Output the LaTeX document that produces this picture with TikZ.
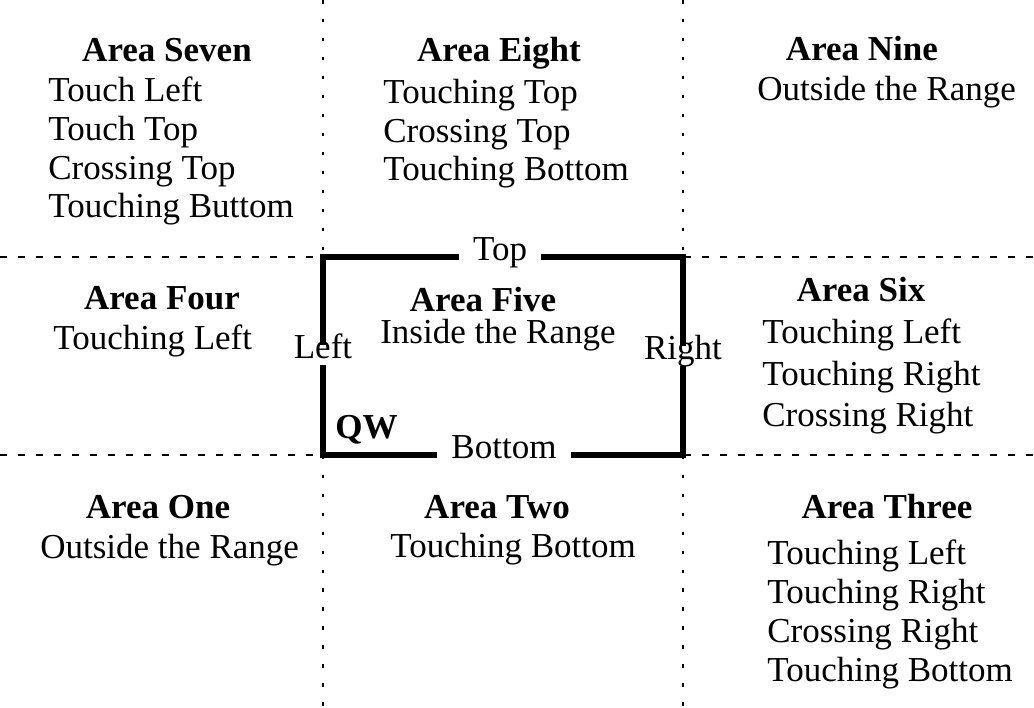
\documentclass[tikz,border=0pt]{standalone}
\usepackage{fontspec}
\setmainfont{Liberation Serif}
\newcommand\areafont{\fontsize{24.9}{27.7}\selectfont}

\begin{document}
\begin{tikzpicture}[
  x=0.025cm, y=-0.025cm,
  font=\areafont,
  areahead/.style={anchor=base, inner sep=0pt, font=\areafont\bfseries},
  arealist/.style={anchor=base west, inner sep=0pt, align=left},
  rimlabel/.style={fill=white, inner xsep=0.35cm, inner ysep=0.08cm,
    text height=0.68em, text depth=0.2em},
  rangebox/.style={line width=3.6pt, line join=miter},
  hgrid/.style={line width=1.2pt, dash pattern=on 5pt off 7.8pt},
  vgrid/.style={line width=1.2pt, dash pattern=on 2.5pt off 11pt}
]
\coordinate (nw) at (0,0);
\coordinate (se) at (1034,708);
\coordinate (tl) at (323,257);
\coordinate (br) at (683,455);
\useasboundingbox (nw) rectangle (se);

\draw[vgrid] (tl |- nw) -- (tl |- se);
\draw[vgrid] (br |- nw) -- (br |- se);
\draw[hgrid] (tl -| nw) -- (tl -| se);
\draw[hgrid] (br -| nw) -- (br -| se);

\node[rimlabel] (top) at (500,257) {Top};
\node[rimlabel] (bottom) at (504,455) {Bottom};
\node[rimlabel, inner xsep=2pt] (left) at (323,355) {Left};
\node[rimlabel, inner xsep=2pt] (right) at (683,356) {Right};

\draw[rangebox] (top.west) -| (left.north);
\draw[rangebox] (left.south) |- (bottom.west);
\draw[rangebox] (bottom.east) -| (right.south);
\draw[rangebox] (right.north) |- (top.east);

\node[areahead] (seven) at (167,62) {Area Seven};
\node[arealist] (sevenlist) at (48,218) {Touch Left\\Touch Top\\Crossing Top\\Touching Buttom};
\node[areahead] (eight) at (499,62) {Area Eight};
\node[arealist] (eightlist) at (383,181) {Touching Top\\Crossing Top\\Touching Bottom};
\node[areahead] (nine) at (862,61) {Area Nine};
\node[arealist] (ninelist) at (757,101) {Outside the Range};

\node[areahead] (four) at (162,310) {Area Four};
\node[arealist] (fourlist) at (53,350) {Touching Left};
\node[areahead] (five) at (483,312) {Area Five};
\node[arealist] (fivelist) at (380,344) {Inside the Range};
\node[areahead] (six) at (861,302) {Area Six};
\node[arealist] (sixlist) at (762,427) {Touching Left\\[2pt]Touching Right\\[2pt]Crossing Right};
\node[areahead, anchor=base west] (qw) at (335,438) {QW};

\node[areahead] (one) at (158,518) {Area One};
\node[arealist] (onelist) at (40,558) {Outside the Range};
\node[areahead] (two) at (497,518) {Area Two};
\node[arealist] (twolist) at (390,557) {Touching Bottom};
\node[areahead] (three) at (887,518) {Area Three};
\node[arealist] (threelist) at (767,681) {Touching Left\\Touching Right\\Crossing Right\\Touching Bottom};
\end{tikzpicture}
\end{document}
